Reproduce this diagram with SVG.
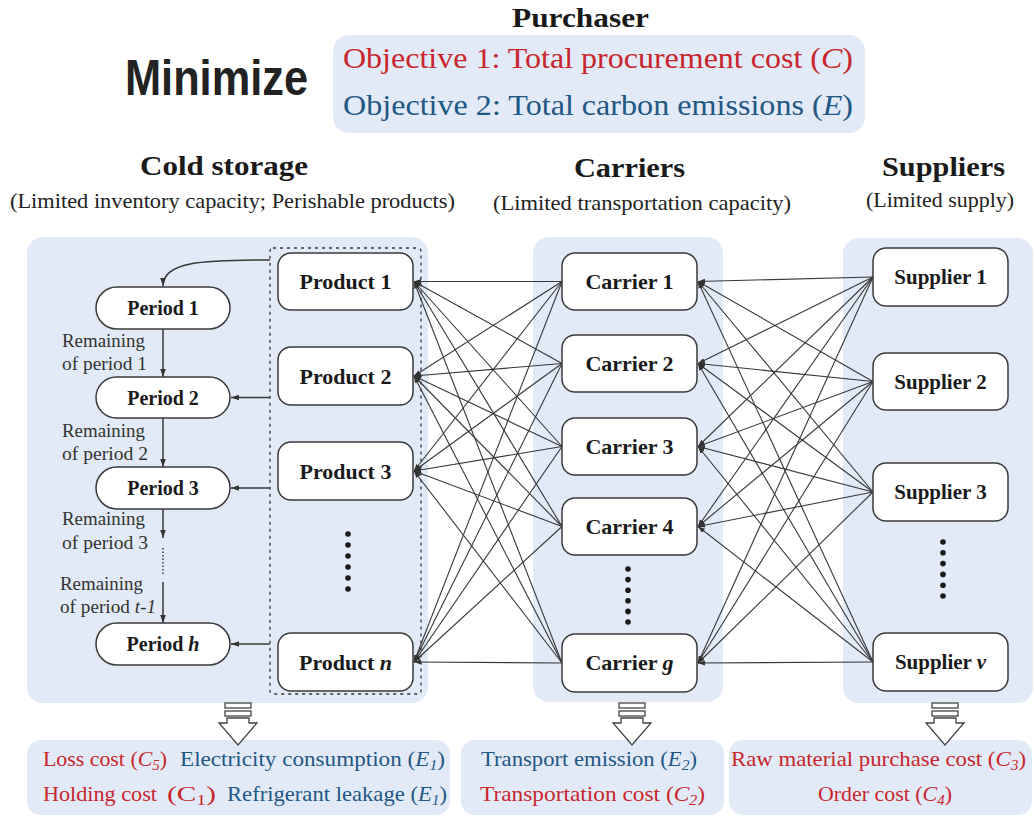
<svg xmlns="http://www.w3.org/2000/svg" width="1034" height="816" viewBox="0 0 1034 816">
<style>
.panel{fill:#e1eaf6;}
.node{fill:#fff;stroke:#3a3a3a;stroke-width:1.5;}
.lbl{font-family:"Liberation Serif","Times New Roman",serif;font-weight:bold;fill:#1a1a1a;text-anchor:middle;}
.ser{font-family:"Liberation Serif","Times New Roman",serif;}
.red{fill:#c9252d;}
.blue{fill:#1f5785;}
.rem{font-family:"Liberation Serif","Times New Roman",serif;font-size:18px;fill:#333;}
.link{fill:none;stroke:#383838;stroke-width:1.1;marker-end:url(#ah);}
.parr{fill:none;stroke:#383838;stroke-width:1.5;marker-end:url(#ah2);}
.dot{fill:#1a1a1a;}
.barr{fill:#fff;stroke:#444;stroke-width:1.3;}
</style>
<defs>
<marker id="ah" viewBox="0 0 10 10" refX="10" refY="5" markerWidth="7" markerHeight="7" markerUnits="userSpaceOnUse" orient="auto"><path d="M0,1.5 L10,5 L0,8.5 z" fill="#333"/></marker>
<marker id="ah2" viewBox="0 0 10 10" refX="10" refY="5" markerWidth="8" markerHeight="8" markerUnits="userSpaceOnUse" orient="auto"><path d="M0,1.5 L10,5 L0,8.5 z" fill="#333"/></marker>
<g id="blockarrow">
<rect class="barr" x="-13" y="0" width="26" height="5"/>
<rect class="barr" x="-13" y="8" width="26" height="5"/>
<path class="barr" d="M-11,15 H11 V20 H19 L0,42 L-19,20 H-11 Z"/>
</g>
</defs>

<!-- Header -->
<g id="header">
<text x="125" y="95" font-family="'Liberation Sans',Arial,sans-serif" font-weight="bold" font-size="50" fill="#222" textLength="183" lengthAdjust="spacingAndGlyphs">Minimize</text>
<text x="512" y="27" class="ser" font-weight="bold" font-size="27" fill="#1a1a1a" textLength="137" lengthAdjust="spacingAndGlyphs">Purchaser</text>
<rect class="panel" x="333" y="35" width="532" height="98" rx="16"/>
<text x="343" y="68" class="ser red" font-size="30" textLength="510" lengthAdjust="spacingAndGlyphs">Objective 1: Total procurement cost (<tspan font-style="italic">C</tspan>)</text>
<text x="343" y="115" class="ser blue" font-size="30" textLength="510" lengthAdjust="spacingAndGlyphs">Objective 2: Total carbon emissions (<tspan font-style="italic">E</tspan>)</text>
<text x="140" y="175" class="ser" font-weight="bold" font-size="28" fill="#1a1a1a" textLength="168" lengthAdjust="spacingAndGlyphs">Cold storage</text>
<text x="10" y="208" class="ser" font-size="21" fill="#222" textLength="445" lengthAdjust="spacingAndGlyphs">(Limited inventory capacity; Perishable products)</text>
<text x="574" y="177" class="ser" font-weight="bold" font-size="28" fill="#1a1a1a" textLength="111" lengthAdjust="spacingAndGlyphs">Carriers</text>
<text x="493" y="210" class="ser" font-size="21" fill="#222" textLength="298" lengthAdjust="spacingAndGlyphs">(Limited transportation capacity)</text>
<text x="882" y="176" class="ser" font-weight="bold" font-size="28" fill="#1a1a1a" textLength="123" lengthAdjust="spacingAndGlyphs">Suppliers</text>
<text x="866" y="207" class="ser" font-size="21" fill="#222" textLength="148" lengthAdjust="spacingAndGlyphs">(Limited supply)</text>
</g>

<!-- Panels -->
<g id="panels">
<rect class="panel" x="27" y="237" width="401" height="466" rx="16"/>
<rect class="panel" x="533" y="237" width="190" height="465" rx="16"/>
<rect class="panel" x="843" y="238" width="190" height="465" rx="16"/>
<rect x="270" y="248" width="151" height="446" rx="3" fill="none" stroke="#333" stroke-width="1.3" stroke-dasharray="3 4"/>
</g>

<!-- Connectors -->
<g id="connectors">
<!-- carriers to products -->
<path class="link" d="M562,281.5 L414,281.5"/>
<path class="link" d="M562,281.5 L414,376"/>
<path class="link" d="M562,281.5 L414,471"/>
<path class="link" d="M562,281.5 L414,662"/>
<path class="link" d="M562,363.5 L414,281.5"/>
<path class="link" d="M562,363.5 L414,376"/>
<path class="link" d="M562,363.5 L414,471"/>
<path class="link" d="M562,363.5 L414,662"/>
<path class="link" d="M562,446.5 L414,281.5"/>
<path class="link" d="M562,446.5 L414,376"/>
<path class="link" d="M562,446.5 L414,471"/>
<path class="link" d="M562,446.5 L414,662"/>
<path class="link" d="M562,526.5 L414,281.5"/>
<path class="link" d="M562,526.5 L414,376"/>
<path class="link" d="M562,526.5 L414,471"/>
<path class="link" d="M562,526.5 L414,662"/>
<path class="link" d="M562,663 L414,281.5"/>
<path class="link" d="M562,663 L414,376"/>
<path class="link" d="M562,663 L414,471"/>
<path class="link" d="M562,663 L414,662"/>
<!-- suppliers to carriers -->
<path class="link" d="M873,277 L698,281.5"/>
<path class="link" d="M873,277 L698,363.5"/>
<path class="link" d="M873,277 L698,446.5"/>
<path class="link" d="M873,277 L698,526.5"/>
<path class="link" d="M873,277 L698,663"/>
<path class="link" d="M873,381.5 L698,281.5"/>
<path class="link" d="M873,381.5 L698,363.5"/>
<path class="link" d="M873,381.5 L698,446.5"/>
<path class="link" d="M873,381.5 L698,526.5"/>
<path class="link" d="M873,381.5 L698,663"/>
<path class="link" d="M873,492 L698,281.5"/>
<path class="link" d="M873,492 L698,363.5"/>
<path class="link" d="M873,492 L698,446.5"/>
<path class="link" d="M873,492 L698,526.5"/>
<path class="link" d="M873,492 L698,663"/>
<path class="link" d="M873,662 L698,281.5"/>
<path class="link" d="M873,662 L698,363.5"/>
<path class="link" d="M873,662 L698,446.5"/>
<path class="link" d="M873,662 L698,526.5"/>
<path class="link" d="M873,662 L698,663"/>
<!-- cold storage internal -->
<path class="parr" d="M270,260 C200,260 163,262 163,286"/>
<path class="parr" d="M163,329 L163,377"/>
<path class="parr" d="M163,418 L163,467"/>
<path class="parr" d="M163,509 L163,538"/>
<path d="M163,548 L163,575" fill="none" stroke="#383838" stroke-width="1.5" stroke-dasharray="1.5 2"/>
<path class="parr" d="M163,582 L163,623"/>
<path class="parr" d="M270,397.5 L231,397.5"/>
<path class="parr" d="M270,488 L231,488"/>
<path class="parr" d="M270,644 L231,644"/>
</g>

<!-- Remaining labels -->
<g id="remaining-labels">
<text class="rem" x="62" y="347" textLength="83" lengthAdjust="spacingAndGlyphs">Remaining</text>
<text class="rem" x="62" y="370" textLength="85" lengthAdjust="spacingAndGlyphs">of period 1</text>
<text class="rem" x="62" y="437" textLength="83" lengthAdjust="spacingAndGlyphs">Remaining</text>
<text class="rem" x="62" y="460" textLength="86" lengthAdjust="spacingAndGlyphs">of period 2</text>
<text class="rem" x="62" y="525" textLength="83" lengthAdjust="spacingAndGlyphs">Remaining</text>
<text class="rem" x="62" y="549" textLength="86" lengthAdjust="spacingAndGlyphs">of period 3</text>
<text class="rem" x="60" y="590" textLength="83" lengthAdjust="spacingAndGlyphs">Remaining</text>
<text class="rem" x="60" y="613" textLength="96" lengthAdjust="spacingAndGlyphs">of period <tspan font-style="italic">t-1</tspan></text>
</g>

<!-- Period nodes -->
<g id="period-1"><rect class="node" x="96" y="287" width="134" height="42" rx="21"/><text class="lbl" x="163" y="315" font-size="20">Period 1</text></g>
<g id="period-2"><rect class="node" x="96" y="377" width="134" height="41" rx="20.5"/><text class="lbl" x="163" y="404.5" font-size="20">Period 2</text></g>
<g id="period-3"><rect class="node" x="96" y="467" width="134" height="42" rx="21"/><text class="lbl" x="163" y="495" font-size="20">Period 3</text></g>
<g id="period-h"><rect class="node" x="96" y="623" width="134" height="42" rx="21"/><text class="lbl" x="163" y="651" font-size="20">Period <tspan font-style="italic">h</tspan></text></g>

<!-- Product nodes -->
<g id="product-1"><rect class="node" x="278" y="253" width="135" height="57" rx="13"/><text class="lbl" x="345.5" y="289" font-size="22">Product 1</text></g>
<g id="product-2"><rect class="node" x="278" y="347" width="135" height="58" rx="13"/><text class="lbl" x="345.5" y="383.5" font-size="22">Product 2</text></g>
<g id="product-3"><rect class="node" x="278" y="442" width="135" height="58" rx="13"/><text class="lbl" x="345.5" y="478.5" font-size="22">Product 3</text></g>
<g id="product-n"><rect class="node" x="278" y="633" width="135" height="58" rx="13"/><text class="lbl" x="345.5" y="669.5" font-size="22">Product <tspan font-style="italic">n</tspan></text></g>
<g id="product-dots">
<circle class="dot" cx="348" cy="534" r="2.8"/><circle class="dot" cx="348" cy="545" r="2.8"/><circle class="dot" cx="348" cy="556" r="2.8"/><circle class="dot" cx="348" cy="567" r="2.8"/><circle class="dot" cx="348" cy="578" r="2.8"/><circle class="dot" cx="348" cy="589" r="2.8"/>
</g>

<!-- Carrier nodes -->
<g id="carrier-1"><rect class="node" x="562" y="253" width="135" height="57" rx="13"/><text class="lbl" x="629.5" y="289" font-size="22">Carrier 1</text></g>
<g id="carrier-2"><rect class="node" x="562" y="335" width="135" height="57" rx="13"/><text class="lbl" x="629.5" y="371" font-size="22">Carrier 2</text></g>
<g id="carrier-3"><rect class="node" x="562" y="418" width="135" height="57" rx="13"/><text class="lbl" x="629.5" y="454" font-size="22">Carrier 3</text></g>
<g id="carrier-4"><rect class="node" x="562" y="498" width="135" height="57" rx="13"/><text class="lbl" x="629.5" y="534" font-size="22">Carrier 4</text></g>
<g id="carrier-g"><rect class="node" x="562" y="634" width="135" height="58" rx="13"/><text class="lbl" x="629.5" y="670" font-size="22">Carrier <tspan font-style="italic">g</tspan></text></g>
<g id="carrier-dots">
<circle class="dot" cx="628" cy="569" r="2.8"/><circle class="dot" cx="628" cy="579.6" r="2.8"/><circle class="dot" cx="628" cy="590.2" r="2.8"/><circle class="dot" cx="628" cy="600.8" r="2.8"/><circle class="dot" cx="628" cy="611.4" r="2.8"/><circle class="dot" cx="628" cy="622" r="2.8"/>
</g>

<!-- Supplier nodes -->
<g id="supplier-1"><rect class="node" x="873" y="248" width="135" height="58" rx="13"/><text class="lbl" x="940.5" y="284" font-size="21">Supplier 1</text></g>
<g id="supplier-2"><rect class="node" x="873" y="353" width="135" height="57" rx="13"/><text class="lbl" x="940.5" y="388.5" font-size="21">Supplier 2</text></g>
<g id="supplier-3"><rect class="node" x="873" y="463" width="135" height="58" rx="13"/><text class="lbl" x="940.5" y="499" font-size="21">Supplier 3</text></g>
<g id="supplier-v"><rect class="node" x="873" y="633" width="135" height="58" rx="13"/><text class="lbl" x="940.5" y="669" font-size="21">Supplier <tspan font-style="italic">v</tspan></text></g>
<g id="supplier-dots">
<circle class="dot" cx="943" cy="542" r="2.8"/><circle class="dot" cx="943" cy="552.8" r="2.8"/><circle class="dot" cx="943" cy="563.6" r="2.8"/><circle class="dot" cx="943" cy="574.4" r="2.8"/><circle class="dot" cx="943" cy="585.2" r="2.8"/><circle class="dot" cx="943" cy="596" r="2.8"/>
</g>

<!-- Bottom cost boxes -->
<g id="cold-storage-costs">
<rect class="panel" x="27" y="740" width="423" height="75" rx="14"/>
<text x="43" y="766" class="ser red" font-size="22" textLength="124" lengthAdjust="spacingAndGlyphs">Loss cost (<tspan font-style="italic">C</tspan><tspan font-style="italic" font-size="15" dy="4">5</tspan><tspan dy="-4">)</tspan></text>
<text x="180" y="766" class="ser blue" font-size="22" textLength="265" lengthAdjust="spacingAndGlyphs">Electricity consumption (<tspan font-style="italic">E</tspan><tspan font-style="italic" font-size="15" dy="4">1</tspan><tspan dy="-4">)</tspan></text>
<text x="43" y="801" class="ser red" font-size="22" textLength="114" lengthAdjust="spacingAndGlyphs">Holding cost</text>
<text x="167" y="801" class="ser red" font-size="22" textLength="49" lengthAdjust="spacingAndGlyphs">(C<tspan font-size="15" dy="4">1</tspan><tspan dy="-4">)</tspan></text>
<text x="227" y="801" class="ser blue" font-size="22" textLength="220" lengthAdjust="spacingAndGlyphs">Refrigerant leakage (<tspan font-style="italic">E</tspan><tspan font-style="italic" font-size="15" dy="4">1</tspan><tspan dy="-4">)</tspan></text>
</g>
<g id="carrier-costs">
<rect class="panel" x="461" y="740" width="263" height="75" rx="14"/>
<text x="481" y="766" class="ser blue" font-size="22" textLength="216" lengthAdjust="spacingAndGlyphs">Transport emission (<tspan font-style="italic">E</tspan><tspan font-style="italic" font-size="15" dy="4">2</tspan><tspan dy="-4">)</tspan></text>
<text x="480" y="801" class="ser red" font-size="22" textLength="225" lengthAdjust="spacingAndGlyphs">Transportation cost (<tspan font-style="italic">C</tspan><tspan font-style="italic" font-size="15" dy="4">2</tspan><tspan dy="-4">)</tspan></text>
</g>
<g id="supplier-costs">
<rect class="panel" x="729" y="740" width="303" height="75" rx="14"/>
<text x="731" y="766" class="ser red" font-size="22" textLength="295" lengthAdjust="spacingAndGlyphs">Raw material purchase cost (<tspan font-style="italic">C</tspan><tspan font-style="italic" font-size="15" dy="4">3</tspan><tspan dy="-4">)</tspan></text>
<text x="818" y="801" class="ser red" font-size="22" textLength="134" lengthAdjust="spacingAndGlyphs">Order cost (<tspan font-style="italic">C</tspan><tspan font-style="italic" font-size="15" dy="4">4</tspan><tspan dy="-4">)</tspan></text>
</g>

<!-- Block arrows -->
<g id="block-arrows">
<use href="#blockarrow" x="238" y="703"/>
<use href="#blockarrow" x="632" y="703"/>
<use href="#blockarrow" x="945" y="703"/>
</g>
</svg>
